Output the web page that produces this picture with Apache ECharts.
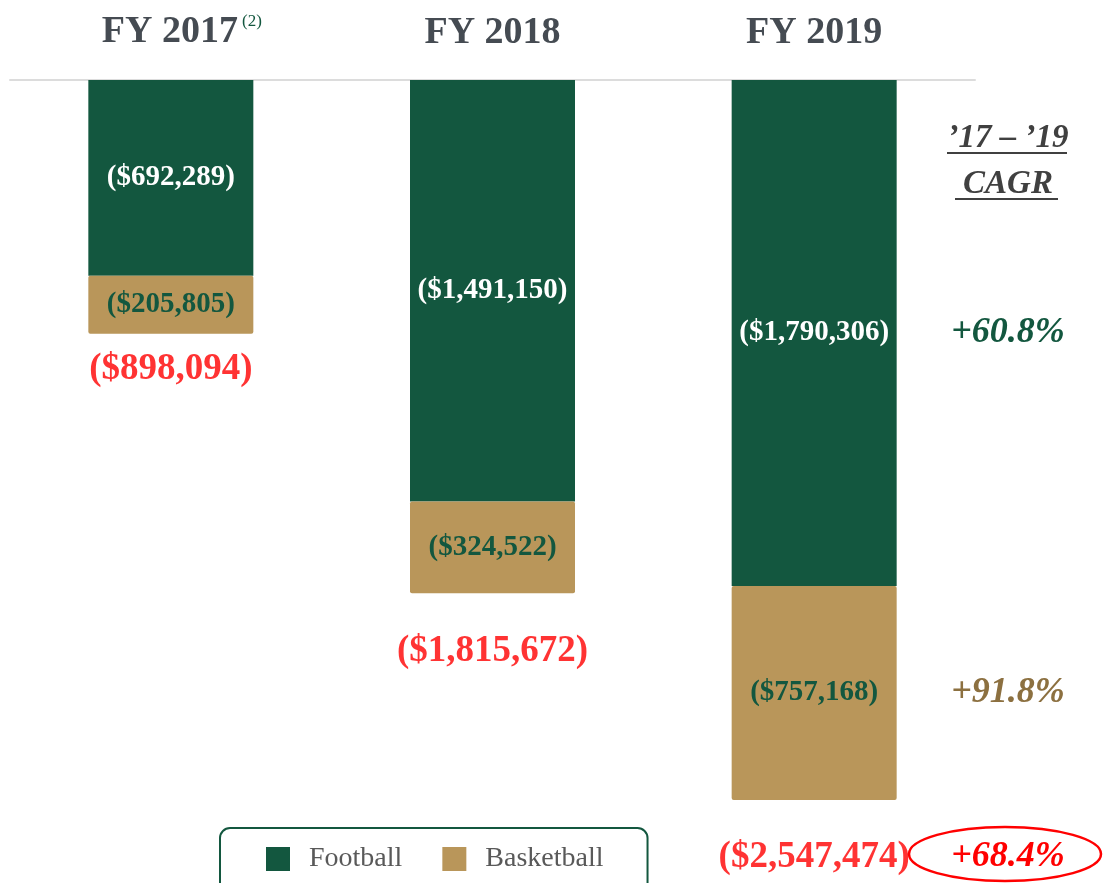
<!DOCTYPE html>
<html>
<head>
<meta charset="utf-8">
<style>
  html, body { margin: 0; padding: 0; background: #fff; }
  #main { width: 1106px; height: 883px; }
</style>
<script src="https://cdn.jsdelivr.net/npm/echarts@6/dist/echarts.min.js"></script>
</head>
<body>
<div id="main"></div>
<script>
var years = ['FY 2017', 'FY 2018', 'FY 2019'];
var football = [692289, 1491150, 1790306];
var basketball = [205805, 324522, 757168];
var totals = [898094, 1815672, 2547474];
var cagrFootball = '+60.8%';
var cagrBasketball = '+91.8%';
var cagrTotal = '+68.4%';

var GREEN = '#13573f';
var TAN = '#b9965a';
var RED = '#ff0000';
var FONT = '"Liberation Serif", "DejaVu Serif", serif';
var totalGap = [36, 58, 57];

function money(v) {
  return '($' + v.toLocaleString('en-US') + ')';
}

var myChart = echarts.init(document.getElementById('main'));

var opt = {
  animation: false,
  textStyle: { fontFamily: FONT },
  grid: { left: 10, right: 131, top: 80, bottom: 83 },
  legend: {
    data: ['Football', 'Basketball'],
    left: 220,
    top: 828,
    itemWidth: 24,
    itemHeight: 24,
    itemGap: 40,
    padding: [17, 44, 40, 46],
    borderColor: GREEN,
    borderWidth: 2,
    borderRadius: 10,
    icon: 'rect',
    textStyle: { fontFamily: FONT, fontSize: 28, color: '#595959', padding: [0, 0, 0, 14] }
  },
  xAxis: {
    type: 'category',
    position: 'top',
    data: years,
    axisTick: { show: false },
    axisLine: { lineStyle: { color: '#dcdcdc', width: 2 } },
    axisLabel: {
      margin: 28,
      formatter: function (v, i) {
        return i === 0 ? '{pad|}{a|' + v + '}{sup|(2)}' : '{a|' + v + '}';
      },
      rich: {
        a: { fontFamily: FONT, fontSize: 38, fontWeight: 'bold', color: '#454b52' },
        pad: { width: 24 },
        sup: { fontFamily: FONT, fontSize: 17, color: GREEN, width: 24, padding: [0, 0, 22, 2] }
      }
    }
  },
  yAxis: {
    type: 'value',
    inverse: true,
    min: 0,
    max: totals[2],
    show: false,
    splitLine: { show: false }
  },
  series: [
    {
      name: 'Football',
      type: 'bar',
      stack: 'total',
      barWidth: 165,
      data: football,
      itemStyle: { color: GREEN },
      label: {
        show: true,
        position: 'inside',
        formatter: function (p) { return money(p.value); },
        fontFamily: FONT, fontSize: 29, fontWeight: 'bold', color: '#fff'
      }
    },
    {
      name: 'Basketball',
      type: 'bar',
      stack: 'total',
      barWidth: 165,
      data: basketball,
      itemStyle: { color: TAN, borderRadius: 2 },
      label: {
        show: true,
        position: 'inside',
        formatter: function (p) { return money(p.value); },
        fontFamily: FONT, fontSize: 29, fontWeight: 'bold', color: GREEN
      }
    },
    {
      name: 'Total',
      type: 'scatter',
      symbolSize: 0,
      silent: true,
      data: totals.map(function (v, i) {
        return { value: v, label: { offset: [0, totalGap[i]] } };
      }),
      label: {
        show: true,
        position: 'inside',
        formatter: function (p) { return money(p.value); },
        fontFamily: FONT, fontSize: 37, fontWeight: 'bold', color: RED
      }
    }
  ]
};
myChart.setOption(opt);

// CAGR column, lined up with the FY 2019 bar pieces
var cx = 1008;
var yFoot = myChart.convertToPixel({ seriesIndex: 0 }, [2, football[2] / 2])[1];
var yBask = myChart.convertToPixel({ seriesIndex: 0 }, [2, football[2] + basketball[2] / 2])[1];
var yTot = myChart.convertToPixel({ seriesIndex: 0 }, [2, totals[2]])[1] + totalGap[2];

function cagrText(txt, y, color, size) {
  return {
    type: 'text', x: cx, y: y,
    style: {
      text: txt, fill: color, align: 'center', verticalAlign: 'middle',
      font: 'italic bold ' + size + 'px ' + FONT
    }
  };
}

myChart.setOption({
  graphic: [
    cagrText('\u201917 \u2013 \u201919', 138, '#404040', 33),
    { type: 'line', shape: { x1: 947, y1: 153, x2: 1067, y2: 153 }, style: { stroke: '#404040', lineWidth: 2 } },
    cagrText('CAGR', 184, '#404040', 33),
    { type: 'line', shape: { x1: 955, y1: 199, x2: 1058, y2: 199 }, style: { stroke: '#404040', lineWidth: 2 } },
    cagrText(cagrFootball, yFoot, GREEN, 36),
    cagrText(cagrBasketball, yBask, '#8c7040', 36),
    cagrText(cagrTotal, yTot, RED, 36),
    {
      type: 'ellipse',
      shape: { cx: 1005, cy: yTot - 3, rx: 96, ry: 27 },
      style: { fill: 'none', stroke: RED, lineWidth: 2.5 }
    }
  ]
});
</script>
</body>
</html>
